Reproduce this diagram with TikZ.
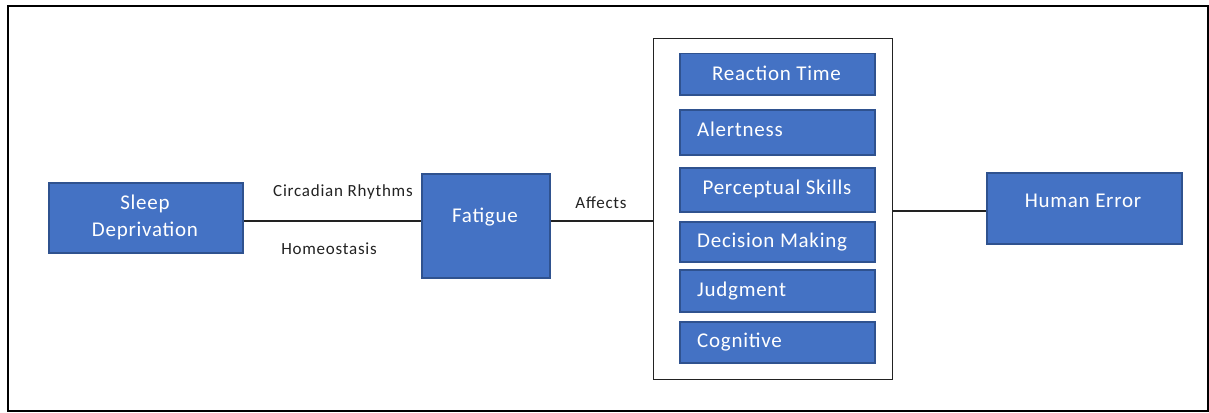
\documentclass[tikz,border=0pt]{standalone}
\usepackage{fontspec}
\setmainfont{Carlito}
\newfontfamily\boxfont[LetterSpace=3.5]{Carlito}
\newfontfamily\lblfont[LetterSpace=4.5]{Carlito}
\definecolor{boxblue}{HTML}{4472C4}
\definecolor{boxedge}{HTML}{2F528F}
\definecolor{ink}{HTML}{222222}
\begin{document}
\begin{tikzpicture}[x=1pt,y=-1pt,
  bx/.style={draw=boxedge,fill=boxblue,line width=1.5pt,inner sep=0pt,anchor=north west},
  bt/.style={text=white,font=\boxfont\fontsize{21}{28}\selectfont,inner sep=0pt},
  lb/.style={text=ink,font=\lblfont\fontsize{17}{20}\selectfont,inner sep=0pt,anchor=base},
  ln/.style={draw=ink,line width=1.2pt}]
\useasboundingbox (0,0) rectangle (1209,412);
\node[draw=black,line width=2.2pt,inner sep=0pt,anchor=north west,minimum width=1200,minimum height=405] (frame) at (7,5) {};
% main boxes
\node[bx,minimum width=194,minimum height=70] (sd) at (48,182) {};
\node[bx,minimum width=128,minimum height=104] (fat) at (421,173) {};
\node[draw=ink,line width=1.2pt,inner sep=0pt,anchor=north west,minimum width=239,minimum height=341] (ct) at (653,38) {};
\node[bx,minimum width=195,minimum height=71] (he) at (986,172) {};
% inner boxes
\node[bx,minimum width=195,minimum height=41] (rt) at (679,53) {};
\node[bx,minimum width=195,minimum height=45] (al) at (679,109) {};
\node[bx,minimum width=195,minimum height=44] (ps) at (679,167) {};
\node[bx,minimum width=195,minimum height=40] (dm) at (679,221) {};
\node[bx,minimum width=195,minimum height=42] (jd) at (679,269) {};
\node[bx,minimum width=195,minimum height=41] (cg) at (679,321) {};
% box texts
\node[bt,anchor=base] (tsd1) at (145,209) {Sleep};
\node[bt,anchor=base] (tsd2) at (145,236) {Deprivation};
\node[bt,anchor=base] (tfat) at (485,222.5) {Fatigue};
\node[bt,anchor=base] (trt) at (776.5,81) {Reaction Time};
\node[bt,anchor=base west] (tal) at (697,136) {Alertness};
\node[bt,anchor=base] (tps) at (777,194) {Perceptual Skills};
\node[bt,anchor=base west] (tdm) at (697,247) {Decision Making};
\node[bt,anchor=base west] (tjd) at (697,296) {Judgment};
\node[bt,anchor=base west] (tcg) at (697,347) {Cognitive};
\node[bt,anchor=base] (the) at (1083,207) {Human Error};
% labels
\node[lb] (lcr) at (343,196.5) {Circadian Rhythms};
\node[lb] (lho) at (329,254) {Homeostasis};
\node[lb] (laf) at (601,208) {Affects};
% connectors
\coordinate (c1) at (0,221);
\coordinate (c2) at (0,211);
\draw[ln] (sd.east |- c1) -- (fat.west |- c1);
\draw[ln] (fat.east |- c1) -- (ct.west |- c1);
\draw[ln] (ct.east |- c2) -- (he.west |- c2);
\end{tikzpicture}
\end{document}
